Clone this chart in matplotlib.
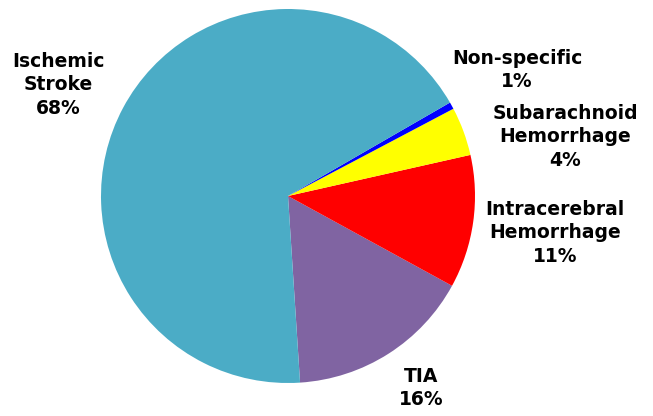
import matplotlib
matplotlib.use('Agg')
import matplotlib.pyplot as plt

# slices, counter-clockwise from the bottom
labels = ['TIA\n16%', 'Intracerebral\nHemorrhage\n11%', 'Subarachnoid\nHemorrhage\n4%',
          'Non-specific\n1%', 'Ischemic\nStroke\n68%']
values = [16.0, 11.5, 4.2, 0.6, 67.7]
colors = ['#8064A2', '#FF0000', '#FFFF00', '#0000FF', '#4BACC6']
# label centres (pixels in the 653x416 picture)
label_px = [(421, 388), (555, 233), (565, 137), (517, 70), (58, 85)]

W, H = 653, 416
cx, cy, r = 288, 196, 187

fig = plt.figure(figsize=(W / 100, H / 100), dpi=100)
ax = fig.add_axes([(cx - r) / W, (H - cy - r) / H, 2 * r / W, 2 * r / H])
ax.pie(values, colors=colors, startangle=-86.3, counterclock=True,
       radius=1, wedgeprops=dict(linewidth=0))
ax.set_xlim(-1, 1)
ax.set_ylim(-1, 1)
ax.set_aspect('equal')
ax.axis('off')

for lab, (px, py) in zip(labels, label_px):
    ax.text((px - cx) / r, (cy - py) / r, lab, ha='center', va='center',
            fontsize=13.5, fontweight='bold', family='DejaVu Sans',
            linespacing=1.3, clip_on=False)

fig.savefig('out.png', dpi=100)
